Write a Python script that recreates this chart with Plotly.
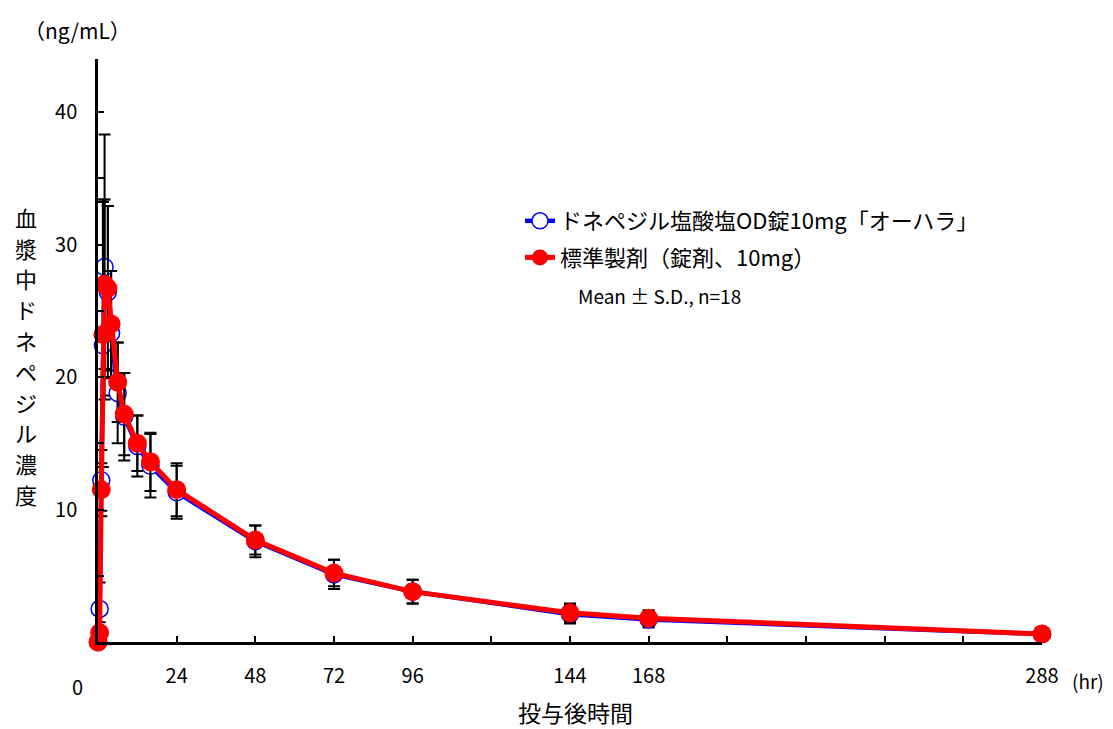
import plotly.graph_objects as go

# ---- data ----
time_hr = [0, 0.5, 1, 1.5, 2, 3, 4, 6, 8, 12, 16, 24, 48, 72, 96, 144, 168, 288]
test_mean = [0, 2.5, 12.2, 22.4, 28.3, 26.4, 23.3, 18.8, 17.0, 14.8, 13.3, 11.3, 7.6, 5.1, 3.8, 2.1, 1.7, 0.6]
test_sd = [0, 2.0, 2.3, 11.0, 10.0, 6.5, 4.7, 3.8, 3.3, 2.3, 2.4, 2.0, 1.2, 1.1, 0.9, 0.7, 0.6, 0.3]
ref_mean = [0, 0.7, 11.5, 23.2, 27.0, 26.7, 24.0, 19.6, 17.2, 15.0, 13.6, 11.5, 7.7, 5.2, 3.8, 2.2, 1.8, 0.6]
ref_sd = [0, 0.8, 2.0, 10.0, 6.4, 6.2, 4.0, 3.0, 3.1, 2.1, 2.2, 2.0, 1.1, 1.0, 0.9, 0.7, 0.6, 0.3]

test_name = "ドネペジル塩酸塩OD錠10mg「オーハラ」"
ref_name = "標準製剤（錠剤、10mg）"

x_tickvals = [24, 48, 72, 96, 120, 144, 168, 192, 216, 240, 264, 288]
x_ticktext = ["24", "48", "72", "96", "", "144", "168", "", "", "", "", "288"]
y_tickvals = [5, 10, 15, 20, 25, 30, 35, 40]
y_ticktext = ["", "10", "", "20", "", "30", "", "40"]

y_title_chars = list("血漿中ドネペジル濃度")

FONT = "Noto Sans CJK JP"

# ---- layout constants (pixels, page has an 8px body margin) ----
OFF = 8
W, H = 1113 - OFF, 729 - OFF
ML, MR, MT, MB = 98 - OFF, 71, 59 - OFF, 87
PW, PH = W - ML - MR, H - MT - MB


def px(xp):
    return (xp - OFF - ML) / PW


def py(yp):
    return (H - MB - (yp - OFF)) / PH


fig = go.Figure()

fig.add_trace(go.Scatter(
    x=time_hr, y=test_mean, name=test_name, legendgroup="a",
    mode="lines+markers", cliponaxis=False,
    line=dict(color="#0000FF", width=4.5),
    marker=dict(symbol="circle", size=17, color="white",
                line=dict(color="#0000FF", width=1.5)),
    error_y=dict(type="data", array=test_sd, visible=True,
                 color="black", thickness=2, width=6),
))
fig.add_trace(go.Scatter(
    x=time_hr, y=ref_mean, name=ref_name, legendgroup="b",
    mode="lines+markers", cliponaxis=False,
    line=dict(color="#FF0000", width=5),
    marker=dict(symbol="circle", size=19, color="#FF0000",
                line=dict(color="#FF0000", width=0)),
    error_y=dict(type="data", array=ref_sd, visible=True,
                 color="black", thickness=2, width=6),
))

annotations = [
    dict(text="（ng/mL）", x=px(77), y=py(30), font=dict(size=21)),
    dict(text="0", x=px(77), y=py(686), font=dict(size=20)),
    dict(text="(hr)", x=px(1088), y=py(680), font=dict(size=19)),
    dict(text="投与後時間", x=px(575), y=py(712), font=dict(size=23)),
    dict(text="Mean ± S.D., n=18", x=px(576), y=py(295), xanchor="left",
         font=dict(size=19)),
]
for i, ch in enumerate(y_title_chars):
    annotations.append(dict(text=ch, x=px(26), y=py(216.7 + 30.8 * i),
                            font=dict(size=22)))

for a in annotations:
    a.setdefault("xanchor", "center")
    a.update(xref="paper", yref="paper", yanchor="middle", showarrow=False)
    a["font"].update(family=FONT, color="black")

fig.update_layout(
    width=W, height=H,
    margin=dict(l=ML, r=MR, t=MT, b=MB, pad=0),
    paper_bgcolor="white", plot_bgcolor="white",
    font=dict(family=FONT, color="black", size=20),
    showlegend=True,
    legend=dict(x=px(520), y=py(200), xanchor="left", yanchor="top",
                font=dict(family=FONT, size=22, color="black"),
                bgcolor="rgba(0,0,0,0)", tracegroupgap=5,
                traceorder="grouped", itemwidth=30),
    annotations=annotations,
    xaxis=dict(range=[0, 288], tickvals=x_tickvals, ticktext=x_ticktext,
               ticks="inside", ticklen=6, tickwidth=2, tickcolor="black",
               showline=True, linecolor="black", linewidth=2.5,
               showgrid=False, zeroline=False, ticklabelstandoff=14,
               tickfont=dict(family=FONT, size=20, color="black")),
    yaxis=dict(range=[0, 44], tickvals=y_tickvals, ticktext=y_ticktext,
               ticks="inside", ticklen=6, tickwidth=2, tickcolor="black",
               showline=True, linecolor="black", linewidth=2.5,
               showgrid=False, zeroline=False, ticklabelstandoff=14,
               tickfont=dict(family=FONT, size=20, color="black")),
)

fig.write_html("out.html")
